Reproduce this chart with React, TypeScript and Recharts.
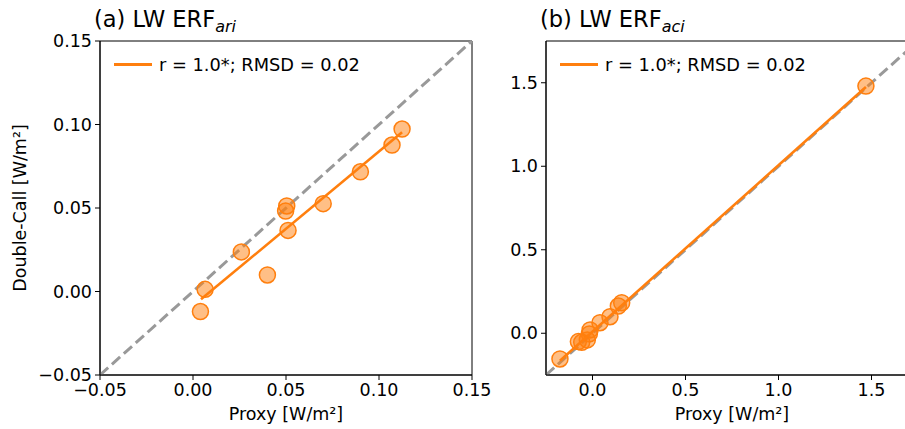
import React from "react"
import { ScatterChart, Scatter, XAxis, YAxis, ReferenceLine, ReferenceArea } from "recharts"

// panel (a) LW ERF_ari
const ariProxy = [0.004, 0.0065, 0.026, 0.04, 0.0504, 0.0498, 0.0511, 0.07, 0.09, 0.107, 0.1124]
const ariDouble = [-0.012, 0.0013, 0.0237, 0.0099, 0.0512, 0.0482, 0.0366, 0.0526, 0.0717, 0.0877, 0.0973]
const ariFitX = [0.0043, 0.1124]
const ariFitY = [-0.0047, 0.0953]
const ariTicks = [-0.05, 0, 0.05, 0.1, 0.15]

// panel (b) LW ERF_aci
const aciProxy = [-0.175, -0.076, -0.058, -0.028, -0.017, -0.013, 0.04, 0.094, 0.139, 0.157, 1.47]
const aciDouble = [-0.154, -0.05, -0.054, -0.04, -0.004, 0.02, 0.063, 0.099, 0.163, 0.183, 1.48]
const aciFitX = [-0.175, 1.47]
const aciFitY = [-0.165, 1.475]
const aciTicks = [0, 0.5, 1, 1.5]

const legendText = "r = 1.0*; RMSD = 0.02"

const ORANGE = "#ff7f0e"
const FONT = "DejaVu Sans, sans-serif"
const FS = 17.5

const toPts = (xs: number[], ys: number[]) => xs.map((x, i) => ({ x, y: ys[i] }))

const fmt = (d: number) => (v: number) => (v < 0 ? "\u2212" : "") + Math.abs(v).toFixed(d)

const Dot = (p: any) => (
  <circle cx={p.cx} cy={p.cy} r={8} fill={ORANGE} fillOpacity={0.5} stroke={ORANGE} strokeWidth={1.5} />
)
const NoDot = () => <g />

function Panel(props: {
  left: number
  width: number
  rightPad: number
  yAxisWidth: number
  domain: [number, number]
  ticks: number[]
  decimals: number
  px: number[]
  py: number[]
  fx: number[]
  fy: number[]
  title: string
  sub: string
  ylabel?: boolean
}) {
  const { domain, ticks, decimals } = props
  const tickStyle = { fontSize: FS, fill: "#000", fontFamily: FONT }
  return (
    <div style={{ position: "absolute", left: props.left, top: 0 }}>
      <ScatterChart width={props.width} height={429} margin={{ top: 41, right: props.rightPad, bottom: 0, left: 0 }}>
        <XAxis
          type="number"
          dataKey="x"
          domain={domain}
          ticks={ticks}
          allowDataOverflow
          tickFormatter={fmt(decimals)}
          tick={tickStyle}
          tickSize={5}
          tickMargin={4}
          stroke="#000"
          height={54}
          label={{ value: "Proxy [W/m\u00b2]", position: "insideBottom", offset: 9, style: { fontSize: FS, fill: "#000", fontFamily: FONT } }}
        />
        <YAxis
          type="number"
          dataKey="y"
          domain={domain}
          ticks={ticks}
          allowDataOverflow
          tickFormatter={fmt(decimals)}
          tick={tickStyle}
          tickSize={5}
          tickMargin={3}
          stroke="#000"
          width={props.yAxisWidth}
        />
        <ReferenceArea x1={domain[0]} x2={domain[1]} y1={domain[0]} y2={domain[1]} fill="none" stroke="#000" strokeWidth={1} ifOverflow="visible" />
        <ReferenceLine
          segment={[{ x: domain[0], y: domain[0] }, { x: domain[1], y: domain[1] }]}
          stroke="#999"
          strokeWidth={3}
          strokeDasharray="11 5"
        />
        <Scatter data={toPts(props.px, props.py)} shape={Dot} isAnimationActive={false} />
        <Scatter
          data={toPts(props.fx, props.fy)}
          shape={NoDot}
          line={{ stroke: ORANGE, strokeWidth: 2.6 }}
          isAnimationActive={false}
        />
      </ScatterChart>
      <div
        style={{
          position: "absolute",
          left: props.yAxisWidth - 6,
          top: 8,
          fontFamily: FONT,
          fontSize: 22.5,
          whiteSpace: "nowrap",
          lineHeight: 1,
        }}
      >
        {props.title}
        <i style={{ fontSize: 16, position: "relative", top: 5 }}>{props.sub}</i>
      </div>
      <div
        style={{
          position: "absolute",
          left: props.yAxisWidth + 14,
          top: 56,
          fontFamily: FONT,
          fontSize: 17.8,
          whiteSpace: "nowrap",
          display: "flex",
          alignItems: "center",
          lineHeight: 1,
        }}
      >
        <span style={{ display: "inline-block", width: 38, height: 3, background: ORANGE, marginRight: 7 }} />
        {legendText}
      </div>
      {props.ylabel && (
        <div
          style={{
            position: "absolute",
            left: 20,
            top: 208,
            transform: "translate(-50%, -50%) rotate(-90deg)",
            fontFamily: FONT,
            fontSize: FS,
            whiteSpace: "nowrap",
          }}
        >
          Double-Call [W/m²]
        </div>
      )}
    </div>
  )
}

export default function App() {
  return (
    <div style={{ position: "absolute", left: 0, top: 0, width: 905, height: 429, overflow: "hidden", background: "#fff" }}>
      <Panel
        left={0}
        width={500}
        rightPad={28}
        yAxisWidth={100}
        domain={[-0.05, 0.15]}
        ticks={ariTicks}
        decimals={2}
        px={ariProxy}
        py={ariDouble}
        fx={ariFitX}
        fy={ariFitY}
        title="(a) LW ERF"
        sub="ari"
        ylabel
      />
      <Panel
        left={480}
        width={438}
        rightPad={0}
        yAxisWidth={66}
        domain={[-0.25, 1.75]}
        ticks={aciTicks}
        decimals={1}
        px={aciProxy}
        py={aciDouble}
        fx={aciFitX}
        fy={aciFitY}
        title="(b) LW ERF"
        sub="aci"
      />
    </div>
  )
}
